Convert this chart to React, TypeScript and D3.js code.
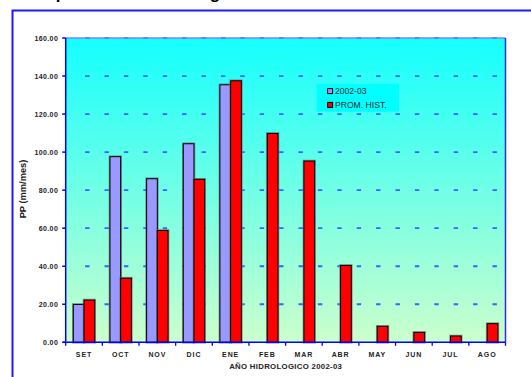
import React from "react";
import * as d3 from "d3";

const months = ["SET", "OCT", "NOV", "DIC", "ENE", "FEB", "MAR", "ABR", "MAY", "JUN", "JUL", "AGO"];
const serie2002 = [19.9, 97.6, 86.0, 104.4, 135.4, null, null, null, null, null, null, null];
const promHist = [22.2, 33.7, 58.8, 85.7, 137.5, 109.8, 95.3, 40.4, 8.4, 5.2, 3.3, 9.8];
const yTicks = [0, 20, 40, 60, 80, 100, 120, 140, 160];
const seriesNames = ["2002-03", "PROM. HIST."];
const seriesColors = ["#9999ff", "#ff0000"];

const W = 531, H = 377;
const L = 65.7, R = 505.5, T = 38, B = 342.3;
const FONT = "Arial, 'Liberation Sans', sans-serif";

export default function App() {
  const x = d3.scaleBand<string>().domain(months).range([L, R]).paddingInner(0).paddingOuter(0);
  const y = d3.scaleLinear().domain([0, 160]).range([B, T]);
  const bw = x.bandwidth();
  const barW = bw * 0.292;
  const inner = d3.scaleBand<number>().domain([0, 1]).range([bw / 2 - barW, bw / 2 + barW]);
  const data = [serie2002, promHist];

  return (
    <svg width={W} height={H} style={{ position: "absolute", left: 0, top: 0 }} fontFamily={FONT}>
      <defs>
        <linearGradient id="bg" x1="0" y1="0" x2="0" y2="1">
          <stop offset="0" stopColor="#14ffff" />
          <stop offset="1" stopColor="#ccffcc" />
        </linearGradient>
      </defs>
      <rect x={0} y={0} width={W} height={H} fill="#ffffff" />
      {/* clipped title (only its lowest pixels show in the reference) */}
      <text x={18} y={-1.2} fontSize={17} fontWeight="bold" fill="#000">
        Comportamiento del Régimen Pluviométrico Mensual
      </text>
      {/* outer frame */}
      <rect x={12.5} y={10.5} width={W} height={H} fill="none" stroke="#1a1aff" strokeWidth={2} />
      {/* plot background */}
      <rect x={L} y={T} width={R - L} height={B - T} fill="url(#bg)" />
      {/* gridlines */}
      {yTicks.filter((t) => t > 0).map((t) => (
        <line key={"g" + t} x1={L + 4.4} x2={R} y1={y(t)} y2={y(t)} stroke="#3f5fff" strokeWidth={1.8}
          strokeDasharray="4.4 15" strokeDashoffset={4.4} />
      ))}
      {/* plot border */}
      <line x1={L} x2={R} y1={T} y2={T} stroke="#8080ff" strokeWidth={1.5} />
      <line x1={R} x2={R} y1={T} y2={B} stroke="#2a2aff" strokeWidth={1.5} />
      {/* bars */}
      {data.map((s, si) =>
        s.map((v, i) => {
          if (v == null) return null;
          const bx = (x(months[i]) as number) + (inner(si) as number);
          const by = y(v);
          const bh = B - by;
          return (
            <g key={si + "-" + i}>
              <rect x={bx} y={by} width={barW} height={bh} fill="none" stroke="#6a6a6a" strokeOpacity={0.7} strokeWidth={2.6} />
              <rect x={bx} y={by} width={barW} height={bh} fill={seriesColors[si]} stroke="#000" strokeWidth={1} />
            </g>
          );
        })
      )}
      {/* axes */}
      <line x1={L} x2={L} y1={T} y2={B} stroke="#0000ff" strokeWidth={1.5} />
      <line x1={L - 3} x2={R} y1={B} y2={B} stroke="#0000ff" strokeWidth={1.5} />
      {yTicks.map((t) => (
        <g key={"yt" + t}>
          <line x1={L - 3.5} x2={L} y1={y(t)} y2={y(t)} stroke="#0000ff" strokeWidth={1.5} />
          <text x={L - 7.5} y={y(t) + 2.5} fontSize={7} fontWeight="bold" textAnchor="end" fill="#222" letterSpacing={0.4}>
            {t.toFixed(2)}
          </text>
        </g>
      ))}
      {months.map((m, i) => (
        <line key={"xt" + i} x1={L + bw * i} x2={L + bw * i} y1={B} y2={B + 3.5} stroke="#0000ff" strokeWidth={1.3} />
      ))}
      <line x1={R} x2={R} y1={B} y2={B + 3.5} stroke="#0000ff" strokeWidth={1.3} />
      {months.map((m) => (
        <text key={"xl" + m} x={(x(m) as number) + bw / 2} y={356.6} fontSize={7} fontWeight="bold" textAnchor="middle" fill="#222" letterSpacing={0.9}>
          {m}
        </text>
      ))}
      <text x={285.7} y={369.3} fontSize={7.8} fontWeight="bold" textAnchor="middle" fill="#222" letterSpacing={0.3}>
        AÑO HIDROLOGICO 2002-03
      </text>
      <text transform={`translate(26.3,189) rotate(-90)`} fontSize={9.3} fontWeight="bold" textAnchor="middle" fill="#222">
        PP (mm/mes)
      </text>
      {/* legend */}
      <rect x={316.7} y={84} width={82.3} height={27.7} fill="#00ffff" />
      {seriesNames.map((n, i) => (
        <g key={"lg" + i}>
          <rect x={327.6} y={88.6 + i * 13.8} width={5} height={5} fill={seriesColors[i]} stroke="#000" strokeWidth={1} />
          <text x={335} y={94.2 + i * 13.8} fontSize={8.6} fill="#1e2e2e">{n}</text>
        </g>
      ))}
    </svg>
  );
}
